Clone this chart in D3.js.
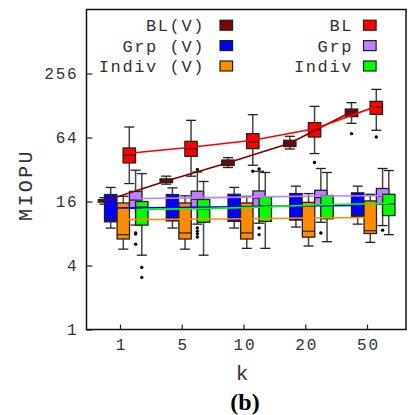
<!DOCTYPE html>
<html>
<head>
<meta charset="utf-8">
<script src="https://cdn.jsdelivr.net/npm/d3@7"></script>
<style>
  html, body { margin: 0; padding: 0; background: #fff; }
  svg text { font-family: "Liberation Mono", monospace; fill: #333; }
</style>
</head>
<body>
<div id="chart"></div>
<script>
// categories and axis ticks
const kValues = ['1', '5', '10', '20', '50'];
const yTicks = [1, 4, 16, 64, 256];

// series names, in plot order
const seriesNames = ['BL(V)', 'Grp (V)', 'Indiv (V)', 'BL', 'Grp', 'Indiv'];

// box stats per k: [whisker low, q1, median, q3, whisker high]
const boxBLV = [
  [15.1, 15.8, 16.2, 16.7, 17.4],
  [23.3, 24.1, 25.2, 26.1, 27.7],
  [33.4, 34.9, 37.2, 39.3, 41.4],
  [49.9, 52.6, 56.8, 60.2, 65.7],
  [87.0, 100.6, 111, 118.5, 136.1]
];
const boxGrpV = [
  [9.0, 10.3, 10.9, 18.6, 21.7],
  [9.0, 10.5, 11.1, 18.6, 21.5],
  [9.0, 10.4, 11.0, 18.7, 21.7],
  [9.2, 10.7, 11.3, 19.0, 22.3],
  [9.8, 11.5, 11.9, 19.3, 22.3]
];
const boxIndivV = [
  [5.7, 7.1, 7.8, 15.5, 17.9],
  [5.7, 7.1, 8.1, 15.5, 18.1],
  [5.8, 7.1, 8.1, 15.5, 17.9],
  [6.1, 7.4, 8.4, 15.7, 19.0],
  [6.6, 8.0, 8.5, 16.2, 18.7]
];
const boxBL = [
  [23.6, 36.9, 43.6, 51.0, 80.3],
  [27.7, 42.6, 49.9, 58.9, 92.8],
  [35.1, 50.3, 58.1, 69.6, 105.0],
  [45.2, 64.7, 75.9, 88.3, 125.6],
  [74.8, 105.7, 123.8, 140.0, 181.5]
];
const boxGrp = [
  [9.6, 13.8, 16.5, 19.9, 31.5],
  [9.8, 14.1, 16.8, 20.0, 30.3],
  [10.0, 14.4, 17.2, 20.1, 30.8],
  [10.2, 14.8, 17.4, 20.4, 32.7],
  [9.5, 15.1, 17.9, 21.2, 32.7]
];
const boxIndiv = [
  [5.0, 9.6, 14.2, 16.0, 29.3],
  [5.0, 10.2, 13.5, 16.7, 24.7],
  [5.8, 10.4, 14.5, 17.7, 30.0],
  [6.7, 11.0, 14.8, 18.2, 30.0],
  [7.8, 11.8, 15.1, 18.7, 31.3]
];

// outliers: [k index, value]
const outBLV = [[4, 69.6]];
const outGrpV = [];
const outIndivV = [];
const outBL = [[2, 30.8], [3, 37.2], [4, 64.7]];
const outGrp = [[0, 8.1], [0, 7.9], [0, 6.35], [1, 32.0], [1, 9.0], [1, 8.4], [1, 7.9], [1, 7.4],
  [2, 32.4], [2, 9.0], [2, 7.8], [3, 8.1], [4, 8.6]];
const outIndiv = [[0, 3.84], [0, 3.09]];

// mean lines
const meanBLV = [16.2, 25.0, 37.0, 56.5, 112];
const meanGrpV = [13.9, 14.0, 14.3, 14.5, 14.7];
const meanIndivV = [10.8, 10.9, 11.0, 11.2, 11.3];
const meanBL = [45.5, 51.8, 60.2, 77.3, 125.6];
const meanGrp = [17.1, 17.3, 17.7, 18.0, 18.1];
const meanIndiv = [13.5, 13.7, 14.2, 15.0, 15.3];

const boxes = [boxBLV, boxGrpV, boxIndivV, boxBL, boxGrp, boxIndiv];
const outliers = [outBLV, outGrpV, outIndivV, outBL, outGrp, outIndiv];
const means = [meanBLV, meanGrpV, meanIndivV, meanBL, meanGrp, meanIndiv];

// styling
const colors = ['#7f0000', '#0000ff', '#ff8c00', '#ff0000', '#bf80ff', '#00ff00'];
const offsets = [-15.5, -9.3, 3.3, 9.3, 15.6, 21.8];
const boxW = 12.4;
const capW = 10;

const W = 409, H = 415;
const plot = { left: 86.5, right: 406, top: 9.5, bottom: 329.5 };

const svg = d3.select('#chart').append('svg')
  .attr('width', W)
  .attr('height', H);

const x = d3.scalePoint().domain(kValues).range([120, 367]);
const y = d3.scaleLog().base(2).domain([1, 1024]).range([plot.bottom, plot.top]);

// axes (ticks point inward)
const yAxis = svg.append('g')
  .attr('transform', `translate(${plot.left},0)`)
  .call(d3.axisLeft(y).tickValues(yTicks).tickFormat(d3.format('d')).tickSize(-6).tickPadding(8));
yAxis.select('.domain').remove();
yAxis.selectAll('text').style('font-size', '16px').style('letter-spacing', '1.8px');

const xAxis = svg.append('g')
  .attr('transform', `translate(0,${plot.bottom})`)
  .call(d3.axisBottom(x).tickSize(-5).tickPadding(9));
xAxis.select('.domain').remove();
xAxis.selectAll('text').style('font-size', '16px').style('letter-spacing', '1.8px')
  .attr('dx', '0.9px');

svg.selectAll('.tick line').attr('stroke', '#222').attr('stroke-width', 1.2);

// boxes
const g = svg.append('g');
boxes.forEach((series, si) => {
  series.forEach((b, ki) => {
    const cx = x(kValues[ki]) + offsets[si];
    const [lo, q1, med, q3, hi] = b.map(y);
    g.append('line')
      .attr('x1', cx).attr('x2', cx).attr('y1', lo).attr('y2', hi)
      .attr('stroke', '#444').attr('stroke-width', 1.5);
    g.append('line')
      .attr('x1', cx - capW / 2).attr('x2', cx + capW / 2).attr('y1', lo).attr('y2', lo)
      .attr('stroke', '#222').attr('stroke-width', 1.3);
    g.append('line')
      .attr('x1', cx - capW / 2).attr('x2', cx + capW / 2).attr('y1', hi).attr('y2', hi)
      .attr('stroke', '#222').attr('stroke-width', 1.3);
    g.append('rect')
      .attr('x', cx - boxW / 2).attr('y', q3)
      .attr('width', boxW).attr('height', q1 - q3)
      .attr('fill', colors[si])
      .attr('stroke', '#222').attr('stroke-width', 1.3);
    g.append('line')
      .attr('x1', cx - boxW / 2).attr('x2', cx + boxW / 2).attr('y1', med).attr('y2', med)
      .attr('stroke', '#222').attr('stroke-width', 1.2);
  });
  g.selectAll(null)
    .data(outliers[si])
    .enter().append('circle')
    .attr('cx', d => x(kValues[d[0]]) + offsets[si])
    .attr('cy', d => y(d[1]))
    .attr('r', 1.7)
    .attr('fill', '#000');
});

// mean lines
const line = d3.line();
means.forEach((m, si) => {
  svg.append('path')
    .attr('d', line(m.map((v, ki) => [x(kValues[ki]) + offsets[si], y(v)])))
    .attr('fill', 'none')
    .attr('stroke', colors[si])
    .attr('stroke-width', 1.6);
});

// frame
svg.append('rect')
  .attr('x', plot.left).attr('y', plot.top)
  .attr('width', plot.right - plot.left).attr('height', plot.bottom - plot.top)
  .attr('fill', 'none').attr('stroke', '#111').attr('stroke-width', 1.5);

// legend: two columns of three
const legend = svg.append('g');
const legendCols = [{ textX: 205, boxX: 220 }, { textX: 353, boxX: 363.5 }];
const legendRows = [25.2, 45.6, 66];
seriesNames.forEach((name, i) => {
  const col = legendCols[Math.floor(i / 3)];
  const ry = legendRows[i % 3];
  legend.append('text')
    .attr('x', col.textX).attr('y', ry)
    .attr('dy', '0.36em')
    .attr('text-anchor', 'end')
    .style('font-size', '17px')
    .style('letter-spacing', '1.6px')
    .text(name);
  legend.append('rect')
    .attr('x', col.boxX).attr('y', ry - 5)
    .attr('width', 12.6).attr('height', 10)
    .attr('fill', colors[i])
    .attr('stroke', '#222').attr('stroke-width', 1.2);
});

// axis labels
svg.append('text')
  .attr('transform', 'translate(32,185) rotate(-90)')
  .attr('text-anchor', 'middle')
  .style('font-size', '20px')
  .style('letter-spacing', '2.4px')
  .text('MIOPU');

svg.append('text')
  .attr('x', 242).attr('y', 380)
  .attr('text-anchor', 'middle')
  .style('font-size', '21px')
  .text('k');

svg.append('text')
  .attr('x', 245).attr('y', 410)
  .attr('text-anchor', 'middle')
  .style('font-family', '"Liberation Serif", serif')
  .style('font-weight', 'bold')
  .style('font-size', '24px')
  .style('fill', '#000')
  .text('(b)');
</script>
</body>
</html>
